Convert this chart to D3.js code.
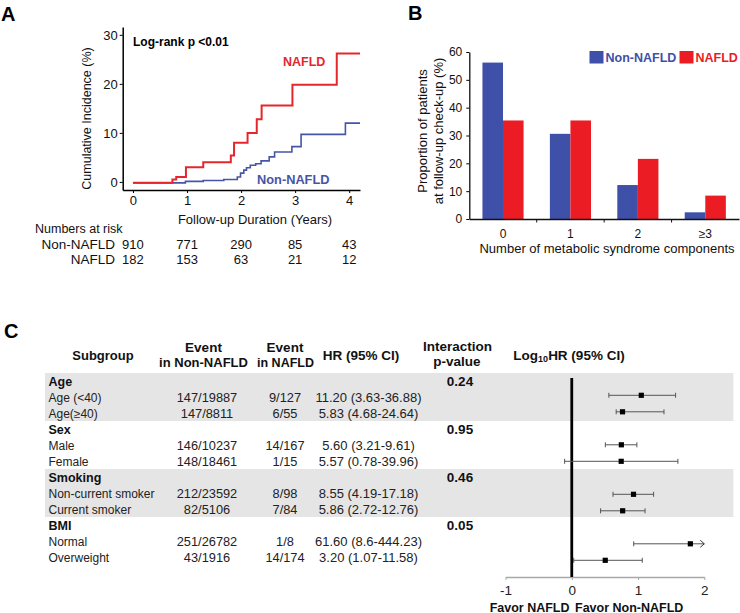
<!DOCTYPE html>
<html><head><meta charset="utf-8">
<script src="https://cdn.jsdelivr.net/npm/d3@7"></script>
<style>
body{margin:0;background:#fff}
svg{display:block;font-family:"Liberation Sans",Arial,sans-serif}
</style>
</head><body>
<svg id="c" width="740" height="613"></svg>
<script>
// ---------- Panel A data ----------
const kmNAFLD = [[0,-0.15],[0.73,0.5],[0.80,1.0],[0.98,3.0],[1.30,4.0],[1.81,5.4],[1.87,8.0],[2.12,10.0],[2.29,12.8],[2.38,15.6],[2.95,19.8],[3.77,26.2],[4.2,26.2]];
const kmNonNAFLD = [[0,-0.2],[0.97,0.1],[1.30,0.3],[1.68,0.5],[1.93,1.0],[1.99,1.8],[2.05,2.4],[2.10,2.9],[2.17,3.4],[2.27,3.7],[2.37,4.3],[2.52,5.1],[2.62,6.1],[2.94,7.2],[3.11,9.7],[3.93,12.0],[4.2,12.0]];
const kmXTicks = [0,1,2,3,4];
const kmYTicks = [0,10,20,30];
const riskTimes = [0,1,2,3,4];
const riskNonNAFLD = [910,771,290,85,43];
const riskNAFLD = [182,153,63,21,12];

// ---------- Panel B data ----------
const barCategories = ["0","1","2","\u22653"];
const barSeries = ["Non-NAFLD","NAFLD"];
const barNonNAFLD = [56.2,30.6,12.2,2.4];
const barNAFLD = [35.4,35.4,21.6,8.4];
const barYTicks = [0,10,20,30,40,50,60];

// ---------- Panel C data ----------
const groupNames = ["Age","Sex","Smoking","BMI"];
const groupP = ["0.24","0.95","0.46","0.05"];
const subLabels = ["Age (<40)","Age(\u226540)","Male","Female","Non-current smoker","Current smoker","Normal","Overweight"];
const eventNon = ["147/19887","147/8811","146/10237","148/18461","212/23592","82/5106","251/26782","43/1916"];
const eventNafld = ["9/127","6/55","14/167","1/15","8/98","7/84","1/8","14/174"];
const hrText = ["11.20 (3.63-36.88)","5.83 (4.68-24.64)","5.60 (3.21-9.61)","5.57 (0.78-39.96)","8.55 (4.19-17.18)","5.86 (2.72-12.76)","61.60 (8.6-444.23)","3.20 (1.07-11.58)"];
const hr = [11.20,5.83,5.60,5.57,8.55,5.86,61.60,3.20];
const hrLo = [3.63,4.68,3.21,0.78,4.19,2.72,8.6,1.07];
const hrHi = [36.88,24.64,9.61,39.96,17.18,12.76,444.23,11.58];
const forestTicks = [-1,0,1,2];

const RED = "#E5262D", BLUE = "#4655A6";
const BAR_RED = "#EC1C24", BAR_BLUE = "#3E50A8";
const FONT = "Liberation Sans, Arial, sans-serif";
const svg = d3.select("#c");
const intFmt = d => String(d);

// ================= Panel A =================
svg.append("text").attr("x",1).attr("y",21).attr("font-size",20).attr("font-weight","bold").text("A");
const xA = d3.scaleLinear().domain([-0.19,4.2]).range([122.7,360]);
const yA = d3.scaleLinear().domain([-1.65,31.6]).range([190,27]);
const gA = svg.append("g");
const axA1 = gA.append("g").attr("transform","translate(0,190)")
  .call(d3.axisBottom(xA).tickValues(kmXTicks).tickFormat(intFmt).tickSize(3).tickSizeOuter(0).tickPadding(3));
const axA2 = gA.append("g").attr("transform","translate(122.7,0)")
  .call(d3.axisLeft(yA).tickValues(kmYTicks).tickFormat(intFmt).tickSize(3).tickSizeOuter(0).tickPadding(2));
[axA1,axA2].forEach(a=>{
  a.select(".domain").attr("stroke","#000").attr("stroke-width",1.5);
  a.selectAll("text").attr("font-size",13).attr("fill","#111").attr("font-family",FONT);
});
const stepLine = d3.line().x(d=>xA(d[0])).y(d=>yA(d[1])).curve(d3.curveStepAfter);
gA.append("path").datum(kmNonNAFLD).attr("d",stepLine).attr("fill","none").attr("stroke",BLUE).attr("stroke-width",1.6);
gA.append("path").datum(kmNAFLD).attr("d",stepLine).attr("fill","none").attr("stroke",RED).attr("stroke-width",2);
gA.append("text").attr("x",133).attr("y",46).attr("font-size",12).attr("font-weight","bold").text("Log-rank p <0.01");
gA.append("text").attr("x",283).attr("y",66).attr("font-size",12.5).attr("font-weight","bold").attr("fill",RED).text("NAFLD");
gA.append("text").attr("x",257).attr("y",184).attr("font-size",12.8).attr("font-weight","bold").attr("fill",BLUE).text("Non-NAFLD");
gA.append("text").attr("transform","translate(91,118.5) rotate(-90)").attr("text-anchor","middle").attr("font-size",12.5).attr("fill","#111").text("Cumulative Incidence (%)");
gA.append("text").attr("x",255).attr("y",223.5).attr("text-anchor","middle").attr("font-size",13).attr("fill","#111").text("Follow-up Duration (Years)");
gA.append("text").attr("x",35).attr("y",232.5).attr("font-size",12.5).attr("fill","#111").text("Numbers at risk");
gA.append("text").attr("x",115).attr("y",249).attr("text-anchor","end").attr("font-size",13.5).attr("fill","#111").text("Non-NAFLD");
gA.append("text").attr("x",115).attr("y",263.5).attr("text-anchor","end").attr("font-size",13.5).attr("fill","#111").text("NAFLD");
gA.selectAll(".rn").data(riskTimes).enter().append("text").attr("x",d=>xA(d)).attr("y",249).attr("text-anchor","middle").attr("font-size",13).attr("fill","#111").text((d,i)=>riskNonNAFLD[i]);
gA.selectAll(".rf").data(riskTimes).enter().append("text").attr("x",d=>xA(d)).attr("y",263.5).attr("text-anchor","middle").attr("font-size",13).attr("fill","#111").text((d,i)=>riskNAFLD[i]);

// ================= Panel B =================
svg.append("text").attr("x",408).attr("y",20).attr("font-size",20).attr("font-weight","bold").text("B");
const gB = svg.append("g");
const xB = d3.scaleBand().domain(barCategories).range([469.3,739]).padding(0);
const xBi = d3.scaleBand().domain(barSeries).range([0,xB.bandwidth()]).paddingInner(0).paddingOuter(0.64);
const yB = d3.scaleLinear().domain([0,60]).range([219,52]);
const barData = barCategories.flatMap((c,i)=>[
  {c, s:"Non-NAFLD", v:barNonNAFLD[i]},
  {c, s:"NAFLD", v:barNAFLD[i]}]);
gB.selectAll("rect.bar").data(barData).enter().append("rect")
  .attr("x",d=>xB(d.c)+xBi(d.s)).attr("width",xBi.bandwidth())
  .attr("y",d=>yB(d.v)).attr("height",d=>yB(0)-yB(d.v))
  .attr("fill",d=>d.s==="NAFLD"?BAR_RED:BAR_BLUE);
const axB2 = gB.append("g").attr("transform","translate(469.3,0)")
  .call(d3.axisLeft(yB).tickValues(barYTicks).tickFormat(intFmt).tickSize(3).tickSizeOuter(0).tickPadding(4));
const axB1 = gB.append("g").attr("transform","translate(0,219)")
  .call(d3.axisBottom(xB).tickSize(0).tickPadding(10));
[axB1,axB2].forEach(a=>{
  a.select(".domain").attr("stroke","#111").attr("stroke-width",1.3);
  a.selectAll("text").attr("font-size",12).attr("fill","#111").attr("font-family",FONT);
});
gB.selectAll("line.bt").data(barCategories.slice(1)).enter().append("line")
  .attr("x1",d=>xB(d)).attr("x2",d=>xB(d)).attr("y1",219).attr("y2",222.5).attr("stroke","#111").attr("stroke-width",1);
gB.append("text").attr("x",607).attr("y",252.5).attr("text-anchor","middle").attr("font-size",13).attr("fill","#111").text("Number of metabolic syndrome components");
gB.append("text").attr("transform","translate(426.5,131) rotate(-90)").attr("text-anchor","middle").attr("font-size",13).attr("fill","#111").text("Proportion of patients");
gB.append("text").attr("transform","translate(443,131) rotate(-90)").attr("text-anchor","middle").attr("font-size",13).attr("fill","#111").text("at follow-up check-up (%)");
const legX = [589.5,679.5];
barSeries.forEach((s,i)=>{
  gB.append("rect").attr("x",legX[i]).attr("y",51).attr("width",14).attr("height",12.5).attr("fill",i?BAR_RED:BAR_BLUE);
  gB.append("text").attr("x",legX[i]+16).attr("y",62).attr("font-size",12.5).attr("font-weight","bold").attr("fill",i?BAR_RED:BAR_BLUE).text(s);
});

// ================= Panel C =================
svg.append("text").attr("x",4).attr("y",338).attr("font-size",20).attr("font-weight","bold").text("C");
const gC = svg.append("g");
const rowTop = d3.scaleLinear().domain([0,1]).range([373,389]);
const ptY = d3.scaleLinear().domain([0,1]).range([378.8,395.3]);
gC.selectAll("rect.band").data([0,2]).enter().append("rect")
  .attr("x",45).attr("width",688.3).attr("y",g=>rowTop(g*3)).attr("height",48).attr("fill","#E5E5E5");
const hdr = (x,y,t,fs)=>gC.append("text").attr("x",x).attr("y",y).attr("text-anchor","middle").attr("font-size",fs).attr("font-weight","bold").attr("fill","#111").text(t);
hdr(103,359.5,"Subgroup",13);
hdr(203.5,351.5,"Event",13.5);
hdr(203.5,367,"in Non-NAFLD",13);
hdr(285,351.5,"Event",13.5);
hdr(285.5,367,"in NAFLD",12.5);
hdr(361,359.5,"HR (95% CI)",13.5);
hdr(457.5,350.5,"Interaction",13.5);
hdr(457,366,"p-value",13.5);
const lh = gC.append("text").attr("x",569).attr("y",359.5).attr("text-anchor","middle").attr("font-size",13.5).attr("font-weight","bold").attr("fill","#111");
lh.append("tspan").text("Log");
lh.append("tspan").attr("font-size",9).attr("dy",2.5).text("10");
lh.append("tspan").attr("dy",-2.5).text("HR (95% CI)");

const rows = [];
groupNames.forEach((g,gi)=>{
  rows.push({type:"group", label:g, p:groupP[gi], i:gi*3});
  [0,1].forEach(k=>rows.push({type:"sub", j:gi*2+k, i:gi*3+1+k}));
});
rows.forEach(r=>{
  const by = rowTop(r.i)+13;
  if(r.type==="group"){
    gC.append("text").attr("x",48.5).attr("y",by).attr("font-size",12.5).attr("font-weight","bold").attr("fill","#111").text(r.label);
    gC.append("text").attr("x",460).attr("y",by).attr("text-anchor","middle").attr("font-size",13.5).attr("font-weight","bold").attr("fill","#111").text(r.p);
  } else {
    const j=r.j;
    gC.append("text").attr("x",48.5).attr("y",by).attr("font-size",12).attr("fill","#222").text(subLabels[j]);
    gC.append("text").attr("x",207).attr("y",by).attr("text-anchor","middle").attr("font-size",12.8).attr("fill","#222").text(eventNon[j]);
    gC.append("text").attr("x",285).attr("y",by).attr("text-anchor","middle").attr("font-size",12.8).attr("fill","#222").text(eventNafld[j]);
    gC.append("text").attr("x",368.5).attr("y",by).attr("text-anchor","middle").attr("font-size",13).attr("fill","#222").text(hrText[j]);
  }
});

// forest plot
const xF = d3.scaleLinear().domain([-1,2]).range([505.5,704.3]);
const axF = gC.append("g").attr("transform","translate(0,577)")
  .call(d3.axisBottom(xF).tickValues(forestTicks).tickFormat(intFmt).tickSize(3).tickSizeOuter(0).tickPadding(5));
axF.select(".domain").attr("stroke","#A8A8A8").attr("stroke-width",1.5);
axF.selectAll(".tick line").attr("stroke","#A8A8A8");
axF.selectAll("text").attr("font-size",13.5).attr("fill","#222").attr("font-family",FONT);
gC.append("line").attr("x1",xF(0)).attr("x2",xF(0)).attr("y1",378).attr("y2",577).attr("stroke","#000").attr("stroke-width",2.8);
const fData = rows.filter(r=>r.type==="sub").map(r=>({
  y: ptY(r.i), m: Math.log10(hr[r.j]), lo: Math.log10(hrLo[r.j]), hi: Math.log10(hrHi[r.j])}));
const fG = gC.selectAll("g.fr").data(fData).enter().append("g");
fG.append("line").attr("x1",d=>xF(d.lo)).attr("x2",d=>xF(Math.min(d.hi,2))).attr("y1",d=>d.y).attr("y2",d=>d.y).attr("stroke","#555").attr("stroke-width",1);
fG.append("line").attr("x1",d=>xF(d.lo)).attr("x2",d=>xF(d.lo)).attr("y1",d=>d.y-2.5).attr("y2",d=>d.y+2.5).attr("stroke","#555");
fG.filter(d=>d.hi<=2).append("line").attr("x1",d=>xF(d.hi)).attr("x2",d=>xF(d.hi)).attr("y1",d=>d.y-2.5).attr("y2",d=>d.y+2.5).attr("stroke","#555");
fG.filter(d=>d.hi>2).append("path").attr("d",d=>`M${xF(2)-4},${d.y-3.5}L${xF(2)},${d.y}L${xF(2)-4},${d.y+3.5}`).attr("fill","none").attr("stroke","#333").attr("stroke-width",1);
fG.append("rect").attr("x",d=>xF(d.m)-2.6).attr("y",d=>d.y-2.6).attr("width",5.2).attr("height",5.2).attr("fill","#000");
gC.append("text").attr("x",569.5).attr("y",611.5).attr("text-anchor","end").attr("font-size",12.5).attr("font-weight","bold").attr("fill","#111").text("Favor NAFLD");
gC.append("text").attr("x",575).attr("y",611.5).attr("font-size",12.5).attr("font-weight","bold").attr("fill","#111").text("Favor Non-NAFLD");
</script>
</body></html>
